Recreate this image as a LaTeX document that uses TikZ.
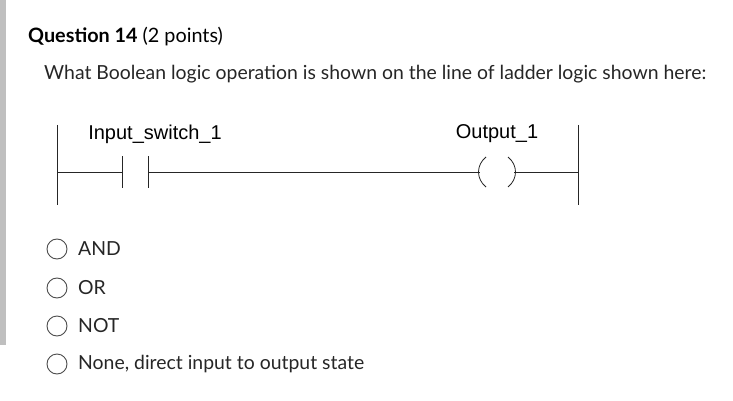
\documentclass[tikz,border=0pt]{standalone}
\usepackage{fontspec}
\setmainfont{Lato}
\newfontfamily\arial{Liberation Sans}
\begin{document}
\begin{tikzpicture}[x=1pt,y=-1pt,
  wire/.style={draw=black!85,line width=0.8pt},
  radio/.style={circle,draw=black!70,line width=0.9pt,minimum size=20pt,inner sep=0pt},
  opt/.style={anchor=west,inner sep=0pt,font=\fontsize{19.4}{22}\selectfont,text=black!85},
  lab/.style={font=\arial\fontsize{20}{23}\selectfont}]
\useasboundingbox (0,0) rectangle (733,401);
\fill[black!25] (0,0) rectangle (6,345);
\node[anchor=west,inner sep=0pt,font=\fontsize{19.8}{23}\selectfont] (title) at (28,37) {\textbf{Question 14} (2 points)};
\node[anchor=west,inner sep=0pt,font=\fontsize{19.4}{23}\selectfont,text=black!85] (q) at (44,74) {What Boolean logic operation is shown on the line of ladder logic shown here:};
% ladder
\coordinate (lt) at (57,125); \coordinate (lb) at (57,205);
\coordinate (rt) at (578,125); \coordinate (rb) at (578,205);
\draw[wire] (lt) -- (lb); \draw[wire] (rt) -- (rb);
\coordinate (l) at (57,172); \coordinate (c1) at (122,172); \coordinate (c2) at (148,172);
\coordinate (k1) at (480,172); \coordinate (k2) at (514,172); \coordinate (r) at (578,172);
\draw[wire] (l) -- (c1); \draw[wire] (c2) -- (k1); \draw[wire] (k2) -- (r);
\draw[wire] (122,156) -- (122,188); \draw[wire] (148,156) -- (148,188);
\draw[wire] (486,157) .. controls (476,165) and (476,179) .. (486,187);
\draw[wire] (508,157) .. controls (518,165) and (518,179) .. (508,187);
\node[lab] (in) at (155,134) {Input\_switch\_1};
\node[lab] (out) at (497,134) {Output\_1};
% options
\foreach \y/\t/\n in {249/AND/a,288/OR/b,326/NOT/c,364/{None, direct input to output state}/d}{
  \node[radio] (r\n) at (57,\y) {};
  \node[opt] (o\n) at (78,\y) {\t};
}
\end{tikzpicture}
\end{document}
